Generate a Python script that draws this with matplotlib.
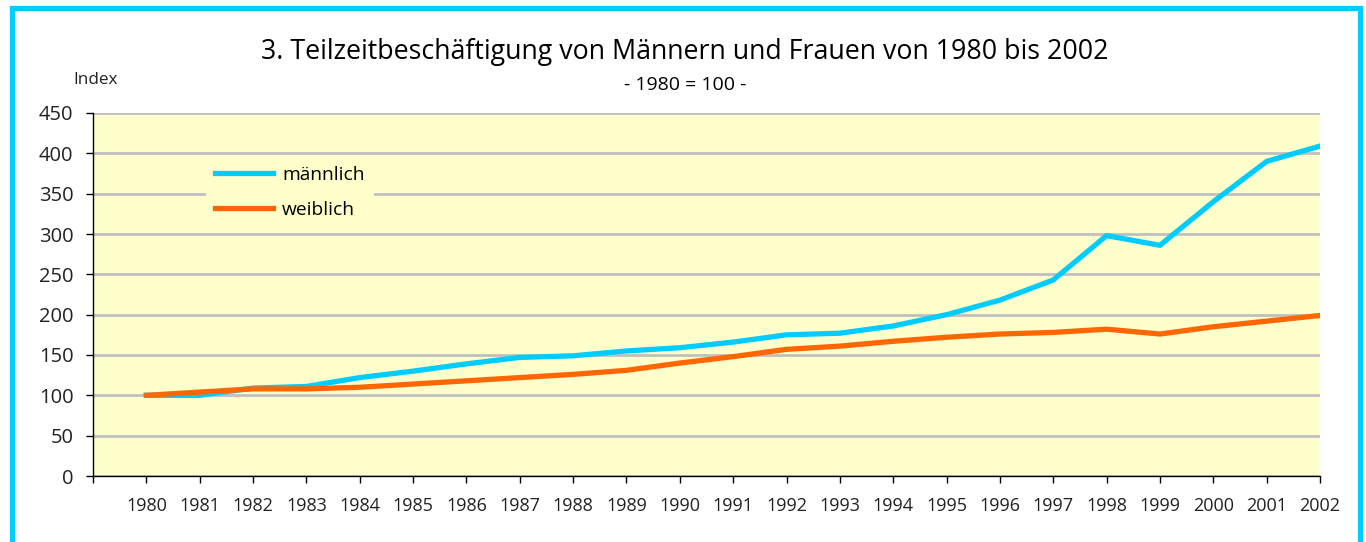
import matplotlib
matplotlib.use("Agg")
import matplotlib.pyplot as plt
from matplotlib.patches import Rectangle
import numpy as np

plt.rcParams['font.family'] = ['Open Sans', 'DejaVu Sans']

years = ['1980', '1981', '1982', '1983', '1984', '1985', '1986', '1987', '1988', '1989',
         '1990', '1991', '1992', '1993', '1994', '1995', '1996', '1997', '1998', '1999',
         '2000', '2001', '2002']
maennlich = [100, 100, 109, 111, 122, 130, 139, 147, 149, 155,
             159, 166, 175, 177, 186, 200, 218, 243, 298, 286,
             340, 390, 409]
weiblich = [100, 104, 108, 108, 110, 114, 118, 122, 126, 131,
            140, 148, 157, 161, 167, 172, 176, 178, 182, 176,
            185, 192, 199]
yticks = [0, 50, 100, 150, 200, 250, 300, 350, 400, 450]

title = "3. Teilzeitbeschäftigung von Männern und Frauen von 1980 bis 2002"
subtitle = "- 1980 = 100 -"

fig = plt.figure(figsize=(13.66, 5.42), dpi=100)
ax = fig.add_axes([93/1366, 1-476/542, 1227/1366, 363/542])
ax.set_facecolor('#FFFFCC')

x = np.arange(len(years))
ax.plot(x, maennlich, color='#00CCFF', lw=3.8, label='männlich', solid_joinstyle='miter', zorder=3)
ax.plot(x, weiblich, color='#FF6600', lw=3.8, label='weiblich', solid_joinstyle='miter', zorder=4)

ax.set_xlim(-1, len(years) - 1)
ax.set_ylim(0, 450)
ax.set_yticks(yticks)
ax.set_yticklabels([str(v) for v in yticks], fontsize=14.5, color='#222222')
ax.set_xticks(np.arange(-1, len(years)))
ax.set_xticklabels([''] + years, fontsize=13, color='#222222')
ax.tick_params(axis='y', length=5, width=1, pad=9)
ax.tick_params(axis='x', length=5, width=1, pad=10)
ax.grid(axis='y', color='#C0C0C0', lw=2, zorder=1)
ax.set_axisbelow(True)
for s in ['top', 'right']:
    ax.spines[s].set_visible(False)
for s in ['left', 'bottom']:
    ax.spines[s].set_color('black')
    ax.spines[s].set_linewidth(1)

leg = ax.legend(loc='upper left', bbox_to_anchor=((196-93)/1227, (476-147)/363),
                frameon=True, fontsize=13.8, handlelength=3.0, handletextpad=0.5,
                labelspacing=0.88, borderpad=0.5)
leg.get_frame().set_facecolor('#FFFFCC')
leg.get_frame().set_edgecolor('none')
leg.get_frame().set_alpha(1)

fig.text(685/1366, 1-52/542, title, ha='center', va='center', fontsize=19.3, color='black')
fig.text(685/1366, 1-85/542, subtitle, ha='center', va='center', fontsize=14, color='black')
fig.text(96/1366, 1-80/542, 'Index', ha='center', va='center', fontsize=12.3, color='#222222')

fig.patches.append(Rectangle((11.5/1366, -0.05), (1360-11.5)/1366, 1.05 - 7.5/542,
                             transform=fig.transFigure, fill=False, edgecolor='#00CCFF',
                             lw=3.8, zorder=10))

fig.savefig('out.png', dpi=100)
